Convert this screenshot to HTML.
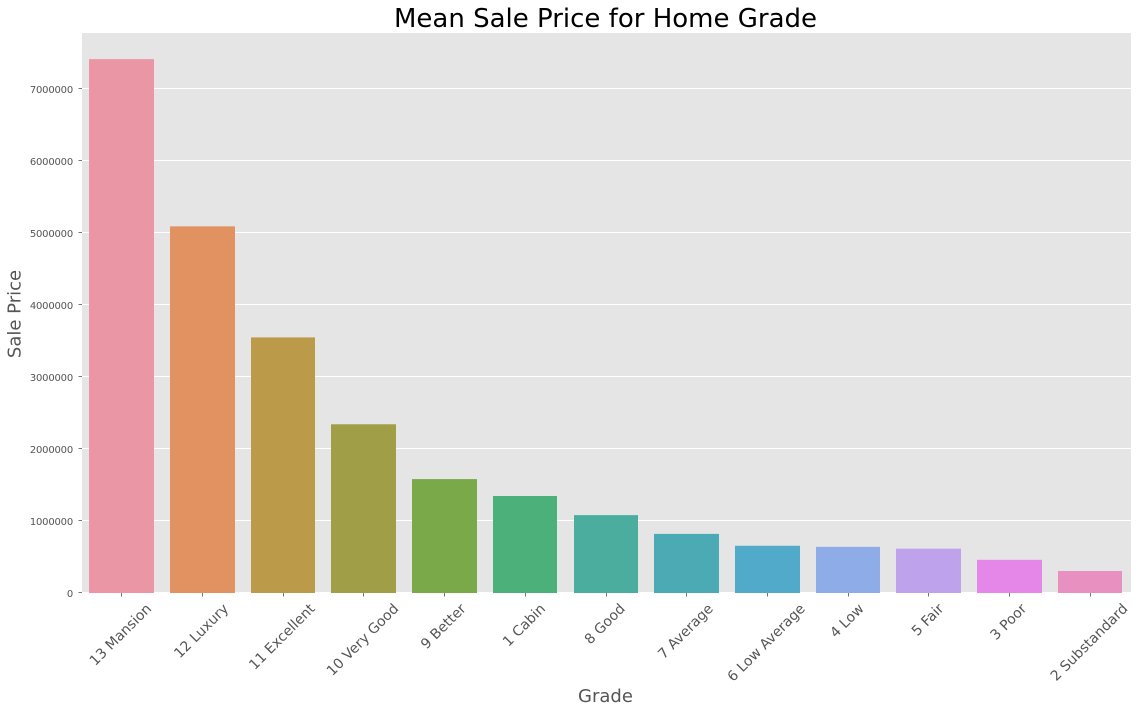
<!DOCTYPE html>
<html>
<head>
<meta charset="utf-8">
<style>
html,body{margin:0;padding:0;background:#fff;width:1138px;height:712px;overflow:hidden}
svg{display:block}
text{font-family:"DejaVu Sans","Liberation Sans",sans-serif}
</style>
</head>
<body>
<svg id="chart" width="1138" height="712" viewBox="0 0 1138 712" xmlns="http://www.w3.org/2000/svg">
<rect x="82" y="33" width="1049" height="560" fill="#e5e5e5"/>
<g id="grid"></g>
<g id="bars"></g>
<g id="yaxis"></g>
<g id="xaxis"></g>
<text x="605.5" y="27" text-anchor="middle" font-size="26" fill="#000">Mean Sale Price for Home Grade</text>
<text x="605.5" y="702" text-anchor="middle" font-size="18" fill="#555555">Grade</text>
<text transform="translate(20.5,314) rotate(-90)" text-anchor="middle" font-size="18" fill="#555555">Sale Price</text>
</svg>
<script>
const categories = ["13 Mansion","12 Luxury","11 Excellent","10 Very Good","9 Better","1 Cabin","8 Good","7 Average","6 Low Average","4 Low","5 Fair","3 Poor","2 Substandard"];
const salePrices = [7405000,5085000,3545000,2340000,1580000,1345000,1080000,820000,655000,640000,615000,460000,305000];
const barColors = ["#ea96a4","#e19260","#bb9a4a","#a09e46","#7aa94a","#4bb07a","#4aad9e","#4baab3","#52aacb","#8eade8","#bea2ec","#e587e8","#e890c0"];
const yTicks = [0,1000000,2000000,3000000,4000000,5000000,6000000,7000000];

const NS = "http://www.w3.org/2000/svg";
const plot = {left:82,right:1131,top:33,bottom:593};
const pxPerUnit = 72.1 / 1000000;
function yScale(v){ return plot.bottom - v * pxPerUnit; }
function band(){ return 80.72 * 13 / categories.length; }
function xCenter(i){ return 81.69 + band() * (i + 0.5); }
function mk(tag, attrs){
  const el = document.createElementNS(NS, tag);
  for (const k in attrs) el.setAttribute(k, attrs[k]);
  return el;
}
const gridG = document.getElementById('grid');
const barsG = document.getElementById('bars');
const yG = document.getElementById('yaxis');
const xG = document.getElementById('xaxis');

yTicks.forEach(function(t){
  const y = Math.floor(yScale(t) - 0.3) + 0.5;
  const g = mk('line',{x1:plot.left,x2:plot.right,y1:y,y2:y,stroke:'#ffffff','stroke-width':1});
  
  
  gridG.appendChild(g);
  const tk = mk('line',{x1:plot.left-3.5,x2:plot.left,y1:y,y2:y,stroke:'#555555','stroke-width':0.8});
  
  
  yG.appendChild(tk);
  const lb = mk('text',{x:plot.left-9,y:y+4.3,'text-anchor':'end','font-size':10,fill:'#555555','letter-spacing':'-0.2'});
  
  
  lb.textContent = String(t);
  yG.appendChild(lb);
});

categories.forEach(function(c,i){
  const w = band() * 0.8;
  const cx = xCenter(i);
  const x0 = Math.floor(cx - w/2);
  const x1 = Math.floor(cx + w/2);
  const r = mk('rect',{x:x0,y:yScale(salePrices[i]),width:x1-x0,height:plot.bottom-yScale(salePrices[i]),fill:barColors[i]});
  
  
  barsG.appendChild(r);
  const tx = Math.floor(cx - 0.35) + 0.5;
  const tk = mk('line',{x1:tx,x2:tx,y1:plot.bottom,y2:plot.bottom+3.5,stroke:'#555555','stroke-width':0.8});
  
  
  xG.appendChild(tk);
  const lb = mk('text',{'text-anchor':'middle','font-size':14,fill:'#555555'});
  
  
  lb.textContent = c;
  xG.appendChild(lb);
  const len = lb.getComputedTextLength();
  const h = 14;
  const bboxH = (len + h) * Math.SQRT1_2;
  const cy = plot.bottom + 8 + bboxH / 2;
  lb.setAttribute('transform','translate(' + (cx - 1.85) + ',' + cy + ') rotate(-45) translate(0,5)');
});
</script>
</body>
</html>
